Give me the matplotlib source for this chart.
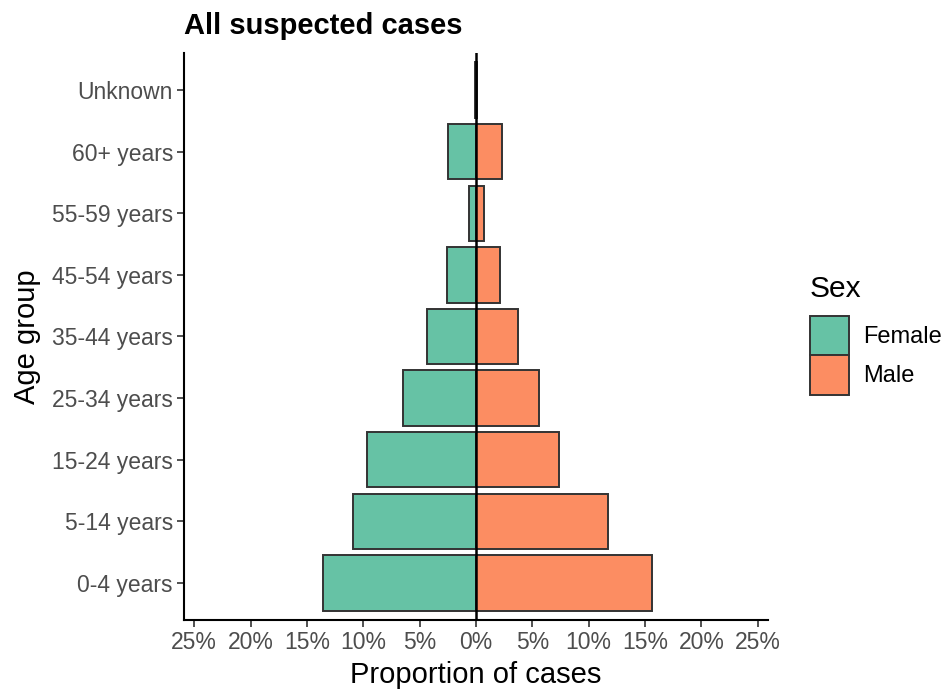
import matplotlib
matplotlib.use("Agg")
import matplotlib.pyplot as plt
from matplotlib.patches import Patch

plt.rcParams['font.family'] = ['Liberation Sans', 'DejaVu Sans']

age_groups = ["0-4 years", "5-14 years", "15-24 years", "25-34 years", "35-44 years",
              "45-54 years", "55-59 years", "60+ years", "Unknown"]
female_pct = [13.6, 10.9, 9.7, 6.5, 4.35, 2.6, 0.65, 2.5, 0.12]
male_pct = [15.6, 11.7, 7.4, 5.6, 3.7, 2.1, 0.7, 2.3, 0.12]
x_ticks = [-25, -20, -15, -10, -5, 0, 5, 10, 15, 20, 25]
x_tick_labels = ["25%", "20%", "15%", "10%", "5%", "0%", "5%", "10%", "15%", "20%", "25%"]

female_color = "#66C2A5"
male_color = "#FC8D62"
edge = "#333333"

fig = plt.figure(figsize=(9.47, 6.9), dpi=100)
ax = fig.add_axes([184/947, 1-620/690, (768-184)/947, (620-53)/690])

y = list(range(len(age_groups)))
ax.barh(y, [-v for v in female_pct], height=0.9, color=female_color, edgecolor=edge, linewidth=1.4, zorder=2)
ax.barh(y, male_pct, height=0.9, color=male_color, edgecolor=edge, linewidth=1.4, zorder=2)
ax.axvline(0, color="black", linewidth=1.8, zorder=3)

ax.set_xlim(-25.9, 25.9)
ax.set_ylim(-0.6, len(age_groups) - 0.4)
ax.set_yticks(y)
ax.set_yticklabels(age_groups)
ax.set_xticks(x_ticks)
ax.set_xticklabels(x_tick_labels)

for s in ["top", "right"]:
    ax.spines[s].set_visible(False)
for s in ["left", "bottom"]:
    ax.spines[s].set_linewidth(1.5)
    ax.spines[s].set_color("black")
ax.tick_params(axis="both", length=5, width=1.2, color="#333333", labelcolor="#4d4d4d",
               labelsize=16.5, pad=3)

ax.set_xlabel("Proportion of cases", fontsize=21, color="black", labelpad=5)
ax.set_ylabel("Age group", fontsize=21, color="black", labelpad=8)
ax.set_title("All suspected cases", fontsize=21, fontweight="bold", loc="left", pad=14, x=0.0)

handles = [Patch(facecolor=female_color, edgecolor=edge, linewidth=1.4, label="Female"),
           Patch(facecolor=male_color, edgecolor=edge, linewidth=1.4, label="Male")]
leg = fig.legend(handles=handles, title="Sex", loc="upper left",
                 bbox_to_anchor=(810/947, 1-275/690), frameon=False, fontsize=17,
                 title_fontsize=21.5, handlelength=1.65, handleheight=2.2,
                 handletextpad=0.6, labelspacing=0.0, borderpad=0, borderaxespad=0)
leg._legend_box.align = "left"
leg._legend_box.sep = 9

fig.savefig("out.png", dpi=100)
